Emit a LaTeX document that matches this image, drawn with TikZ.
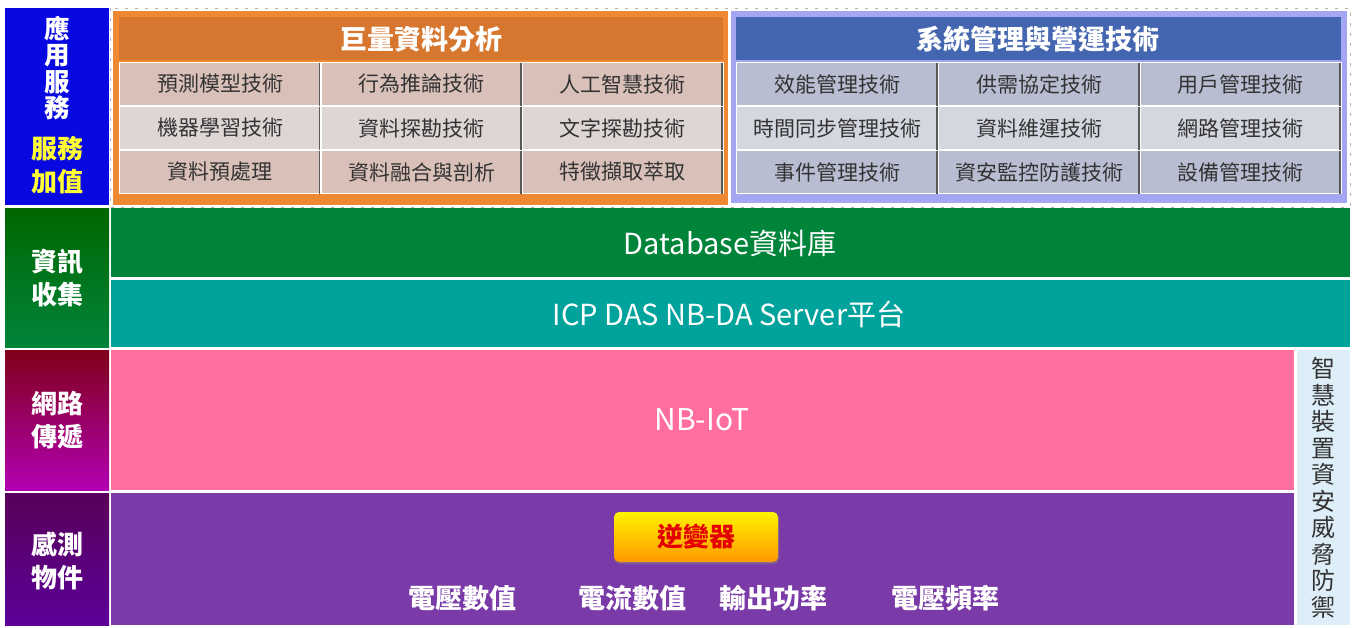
\documentclass[tikz,border=0pt]{standalone}
\usepackage{fontspec}
\setmainfont{Noto Sans CJK TC}
\usetikzlibrary{shadows}
\definecolor{lblue}{HTML}{0808E0}
\definecolor{oframe}{HTML}{EE8833}
\definecolor{ohead}{HTML}{D6762F}
\definecolor{ocellA}{HTML}{D9C1B9}
\definecolor{ocellB}{HTML}{DED5D5}
\definecolor{bframe}{HTML}{A3A6F2}
\definecolor{bhead}{HTML}{4466B0}
\definecolor{bcellA}{HTML}{B9BDD2}
\definecolor{bcellB}{HTML}{D4D6E0}
\definecolor{dbgreen}{HTML}{00843A}
\definecolor{teal}{HTML}{00A29C}
\definecolor{nbpink}{HTML}{FF6E9C}
\definecolor{sensp}{HTML}{7A3AA8}
\definecolor{side}{HTML}{DDEEF9}
\definecolor{txt}{HTML}{333333}
\definecolor{ylw}{HTML}{FFFF33}
\tikzset{
  x=1pt,y=-1pt,
  cell/.style={draw=white,line width=1pt,inner sep=0pt,outer sep=0pt,text=txt,font=\fontsize{21}{23}\selectfont},
  lefttxt/.style={text=white,font=\fontsize{26}{33}\bfseries\selectfont,align=center,inner sep=0pt},
  bandtxt/.style={text=white,font=\fontsize{29}{31}\selectfont,inner sep=0pt},
  meas/.style={text=white,font=\fontsize{27}{29}\bfseries\selectfont,inner sep=0pt},
  headtxt/.style={text=white,font=\fontsize{27}{29}\bfseries\selectfont,inner sep=0pt},
}
\begin{document}
\begin{tikzpicture}
\useasboundingbox[fill=white] (0,0) rectangle (1355,627);
% left labels
\fill[lblue] (5,8) rectangle (109,205);
\node[lefttxt,font=\fontsize{25.5}{26.5}\bfseries\selectfont] (l1) at (57,68) {應\\用\\服\\務};
\node[lefttxt,text=ylw] (l1b) at (57,165) {服務\\加值};
\shade[top color=green!40!black,bottom color=dbgreen] (5,208) rectangle (109,347);
\node[lefttxt] (l2) at (57,278) {資訊\\收集};
\shade[top color=black!50!purple!80!red,bottom color=magenta!70!black] (5,350) rectangle (109,490);
\node[lefttxt] (l3) at (57,420) {網路\\傳遞};
\shade[top color=violet!70!black,bottom color=magenta!60!blue!60!black] (5,493) rectangle (109,625);
\node[lefttxt] (l4) at (57,561) {感測\\物件};
% dashed top frame
\draw[gray!60,dash pattern=on 3pt off 7pt,line width=0.8pt] (110,8) rectangle (1350,207);
% orange group
\fill[oframe] (113,11) rectangle (728,205);
\fill[ohead] (119,17) rectangle (723,60);
\node[headtxt] (oh) at (421,39) {巨量資料分析};
% blue group
\fill[bframe] (731,11) rectangle (1347,203);
\fill[bhead] (736,17) rectangle (1341,60);
\node[headtxt] (bh) at (1038,39) {系統管理與營運技術};
% cells
\foreach \r/\y/\ca/\cb/\ta/\tb/\tc/\ua/\ub/\uc in {
  1/84/ocellA/bcellA/預測模型技術/行為推論技術/人工智慧技術/效能管理技術/供需協定技術/用戶管理技術,
  2/128/ocellB/bcellB/機器學習技術/資料探勘技術/文字探勘技術/時間同步管理技術/資料維運技術/網路管理技術,
  3/172/ocellA/bcellA/資料預處理/資料融合與剖析/特徵擷取萃取/事件管理技術/資安監控防護技術/設備管理技術}{
  \node[cell,fill=\ca,minimum width=201pt,minimum height=43pt] (o\r a) at (220,\y) {\ta};
  \node[cell,fill=\ca,minimum width=201pt,minimum height=43pt] (o\r b) at (421.5,\y) {\tb};
  \node[cell,fill=\ca,minimum width=201pt,minimum height=43pt] (o\r c) at (622.5,\y) {\tc};
  \node[cell,fill=\cb,minimum width=202pt,minimum height=43pt] (b\r a) at (837,\y) {\ua};
  \node[cell,fill=\cb,minimum width=202pt,minimum height=43pt] (b\r b) at (1039,\y) {\ub};
  \node[cell,fill=\cb,minimum width=201pt,minimum height=43pt] (b\r c) at (1240.5,\y) {\uc};
}
\foreach \n in {o1a,o1b,o1c,o2a,o2b,o2c,o3a,o3b,o3c,b1a,b1b,b1c,b2a,b2b,b2c,b3a,b3b,b3c}{
  \draw[black!65,line width=1.5pt] ([xshift=-1pt]\n.north east) -- ([xshift=-1pt]\n.south east);
}
% bands
\fill[dbgreen] (111,208) rectangle (1350,277);
\node[bandtxt] (db) at (730,243) {Database資料庫};
\fill[teal] (111,280) rectangle (1350,347);
\node[bandtxt] (icp) at (729,314) {ICP DAS NB-DA Server平台};
\fill[nbpink] (111,350) rectangle (1294,490);
\node[bandtxt,font=\fontsize{30}{32}\selectfont] (nb) at (702,420) {NB-IoT};
\fill[sensp] (111,493) rectangle (1294,625);
\fill[side] (1297,350) rectangle (1350,625);
\node[text=txt,font=\fontsize{24}{26.5}\selectfont,align=center,inner sep=0pt] (sd) at (1323,488) {智\\慧\\裝\\置\\資\\安\\威\\脅\\防\\禦};
% inverter button
\node[rounded corners=5pt,minimum width=164pt,minimum height=50pt,top color=yellow!90!orange,bottom color=orange!80!yellow,
  drop shadow={shadow xshift=1pt,shadow yshift=-2pt,opacity=0.5},text=red!90!black,font=\fontsize{26}{28}\bfseries\selectfont] (inv) at (696,537) {逆變器};
\node[meas] (m1) at (462,598) {電壓數值};
\node[meas] (m2) at (632,598) {電流數值};
\node[meas] (m3) at (773,598) {輸出功率};
\node[meas] (m4) at (945,598) {電壓頻率};
\end{tikzpicture}
\end{document}
